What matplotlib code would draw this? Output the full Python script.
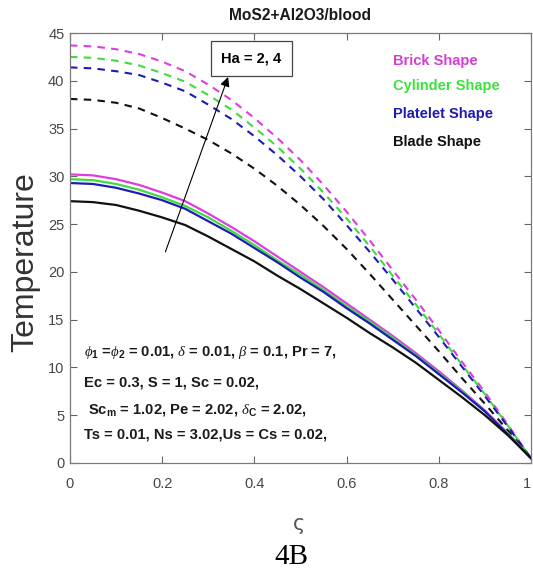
import matplotlib
matplotlib.use("Agg")
import matplotlib.pyplot as plt

plt.rcParams["font.family"] = ["Liberation Sans", "DejaVu Sans"]
plt.rcParams["mathtext.fontset"] = "custom"
plt.rcParams["mathtext.rm"] = "Liberation Sans:bold"
plt.rcParams["mathtext.it"] = "Liberation Serif:italic"
plt.rcParams["mathtext.bf"] = "Liberation Sans:bold"

# data
zeta = [0.0, 0.05, 0.1, 0.15, 0.2, 0.25, 0.3, 0.35, 0.4, 0.45, 0.5,
        0.55, 0.6, 0.65, 0.7, 0.75, 0.8, 0.85, 0.9, 0.95, 1.0]

# Ha = 2 (solid)
brick_ha2 = [30.2, 30.1, 29.7, 29.1, 28.3, 27.4, 26.1, 24.7, 23.2, 21.6, 20.0,
             18.4, 16.7, 15.0, 13.3, 11.5, 9.6, 7.6, 5.5, 3.1, 0.5]
cylinder_ha2 = [29.7, 29.6, 29.2, 28.6, 27.8, 26.9, 25.7, 24.3, 22.8, 21.2, 19.7,
                18.1, 16.4, 14.8, 13.1, 11.3, 9.4, 7.5, 5.4, 3.1, 0.5]
platelet_ha2 = [29.3, 29.2, 28.8, 28.2, 27.5, 26.6, 25.3, 24.0, 22.5, 21.0, 19.4,
                17.9, 16.2, 14.6, 12.9, 11.2, 9.3, 7.4, 5.4, 3.0, 0.5]
blade_ha2 = [27.4, 27.3, 27.0, 26.4, 25.7, 24.9, 23.7, 22.4, 21.1, 19.6, 18.2,
             16.7, 15.2, 13.6, 12.1, 10.5, 8.7, 6.9, 5.0, 2.9, 0.5]

# Ha = 4 (dashed)
brick_ha4 = [43.7, 43.6, 43.3, 42.8, 42.0, 41.0, 39.6, 38.0, 36.1, 34.0, 31.7,
             29.1, 26.3, 23.3, 20.2, 17.1, 13.9, 10.6, 7.4, 4.0, 0.5]
cylinder_ha4 = [42.5, 42.4, 42.1, 41.6, 40.8, 39.9, 38.5, 37.0, 35.1, 33.1, 30.8,
                28.3, 25.6, 22.7, 19.6, 16.6, 13.5, 10.3, 7.2, 3.9, 0.5]
platelet_ha4 = [41.4, 41.3, 41.0, 40.6, 39.8, 38.9, 37.5, 36.0, 34.2, 32.2, 30.0,
                27.6, 24.9, 22.1, 19.2, 16.2, 13.2, 10.1, 7.0, 3.8, 0.5]
blade_ha4 = [38.1, 38.0, 37.7, 37.1, 36.1, 35.0, 33.8, 32.4, 30.8, 29.0, 27.0,
             24.8, 22.4, 19.8, 17.1, 14.4, 11.7, 8.9, 6.2, 3.4, 0.5]

shape_names = ["Brick Shape", "Cylinder Shape", "Platelet Shape", "Blade Shape"]
shape_colors = ["#e03be0", "#3edc3e", "#1c1cb8", "#111111"]
label_colors = ["#d23fd2", "#3ee03e", "#1c1cb0", "#111111"]

x_ticks = [0, 0.2, 0.4, 0.6, 0.8, 1]
x_ticklabels = ["0", "0.2", "0.4", "0.6", "0.8", "1"]

param_lines = [
    r"$\phi_1$ =$\phi_2$ = 0.01, $\delta$ = 0.01, $\beta$ = 0.1, Pr = 7,",
    "Ec = 0.3, S = 1, Sc = 0.02,",
    r" Sc$_\mathrm{m}$ = 1.02, Pe = 2.02, $\delta_\mathrm{C}$ = 2.02,",
    "Ts = 0.01, Ns = 3.02,Us = Cs = 0.02,",
]

fig = plt.figure(figsize=(5.33, 5.72), dpi=100)
ax = fig.add_axes([0.1313, 0.1906, 0.8649, 0.7517])

solid = [brick_ha2, cylinder_ha2, platelet_ha2, blade_ha2]
dashed = [brick_ha4, cylinder_ha4, platelet_ha4, blade_ha4]
for ys, col in zip(dashed, shape_colors):
    ax.plot(zeta, ys, color=col, lw=1.5, dashes=(3.6, 3.0))
for ys, col in zip(solid, shape_colors):
    ax.plot(zeta, ys, color=col, lw=1.6)

ax.set_xlim(0, 1)
ax.set_ylim(0, 45)
ax.set_xticks(x_ticks)
ax.set_xticklabels(x_ticklabels)
ax.set_yticks(range(0, 46, 5))
ax.tick_params(direction="in", top=True, right=True, length=5, width=0.8,
               color="#666666", labelcolor="#474747", labelsize=10.5)
ax.tick_params(axis="x", pad=10)
ax.tick_params(axis="y", pad=4)
ax.get_xticklabels()[-1].set_horizontalalignment("right")
for sp in ax.spines.values():
    sp.set_color("#7a7a7a")
    sp.set_linewidth(0.9)

# shape labels (coloured text, no handles)
legend_y = [41.65, 39.03, 36.1, 33.17]
for name, col, y in zip(shape_names, label_colors, legend_y):
    ax.text(0.70, y, name, color=col, fontsize=10.5, fontweight="bold",
            va="baseline", ha="left")

# Ha box and arrow
ax.text(0.394, 42.33, "Ha = 2, 4", fontsize=10.5, fontweight="bold",
        ha="center", va="center",
        bbox=dict(boxstyle="square,pad=0.7", fc="white", ec="#444444", lw=0.9))
ax.annotate("", xy=(0.343, 40.4), xytext=(0.207, 22.1),
            arrowprops=dict(arrowstyle="-|>", color="black", lw=0.8,
                            mutation_scale=14, shrinkA=0, shrinkB=0))

# parameter block
param_y = [11.2, 8.0, 5.2, 2.6]
for txt, y in zip(param_lines, param_y):
    ax.text(0.03, y, txt, fontsize=10.6, fontweight="bold", color="#1a1a1a",
            va="baseline", ha="left")

fig.text(300 / 533, 1 - 20 / 572, "MoS2+Al2O3/blood", fontsize=11.2,
         fontweight="bold", color="#1a1a1a", ha="center", va="baseline")
fig.text(25 / 533, 1 - 262 / 572, "Temperature", rotation=90, fontsize=23,
         color="#333333", ha="center", va="center")
fig.text(299 / 533, 1 - 524 / 572, "ς", fontsize=15, color="#555555",
         ha="center", va="center", family=["DejaVu Sans"])
fig.text(291 / 533, 1 - 557 / 572, "4B", fontsize=21, color="black",
         ha="center", va="center", family=["Liberation Serif", "DejaVu Serif"])

fig.savefig("out.png", dpi=100, facecolor="white")
